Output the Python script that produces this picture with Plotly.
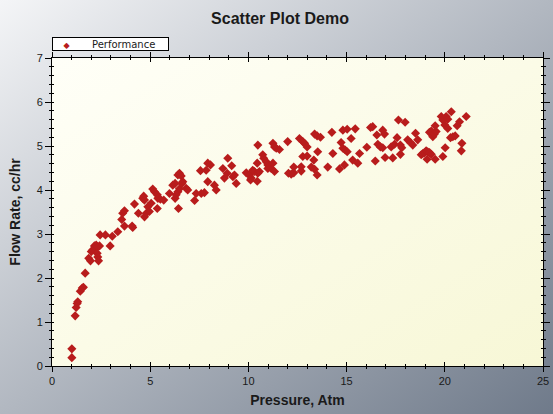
import base64
import plotly.graph_objects as go

# ---- data ----
pressure = [
    1.01, 1.01, 1.18, 1.23, 1.28, 1.31, 1.44, 1.54, 1.60, 1.69, 1.87, 1.96,
    2.00, 2.08, 2.16, 2.25, 2.33, 2.42, 2.30, 2.33, 2.37, 2.45, 2.72, 2.96,
    3.07, 3.35, 3.69, 4.08, 3.55, 3.60, 3.69, 4.11, 4.20, 4.40, 4.62, 4.67,
    4.71, 4.80, 4.88, 5.05, 4.96, 4.71, 5.13, 5.22, 5.36, 5.39, 5.36, 5.52,
    5.69, 5.98, 6.15, 6.27, 6.32, 6.41, 6.49, 6.41, 6.49, 6.58, 6.66, 6.61,
    6.27, 6.83, 6.91, 6.44, 7.26, 7.34, 7.60, 7.76, 7.56, 7.85, 7.93, 8.07,
    7.93, 8.27, 8.36, 8.70, 8.95, 9.15, 8.92, 8.78, 9.21, 9.38, 9.29, 9.89,
    10.06, 10.14, 10.11, 10.22, 10.31, 10.48, 10.45, 10.48, 10.56, 10.45, 10.73, 10.78,
    10.91, 10.99, 11.08, 11.16, 11.25, 11.33, 10.99, 11.25, 11.33, 11.42, 11.58, 12.00,
    12.04, 12.18, 12.31, 12.31, 12.60, 12.77, 12.86, 12.99, 12.69, 12.69, 12.77, 12.99,
    13.20, 13.37, 13.33, 13.37, 13.50, 13.67, 13.53, 13.50, 14.04, 14.64, 14.89, 14.30,
    14.25, 14.72, 14.81, 15.03, 14.81, 14.93, 15.03, 15.23, 15.31, 15.44, 15.57, 15.66,
    16.03, 16.22, 16.33, 16.46, 16.54, 16.59, 16.72, 16.84, 16.84, 16.93, 16.96, 17.27,
    17.44, 17.35, 17.57, 17.64, 17.74, 17.81, 17.74, 17.98, 18.11, 18.25, 18.37, 18.51,
    18.62, 18.80, 18.88, 18.97, 19.05, 19.13, 19.22, 19.31, 19.10, 19.51, 19.90, 20.02,
    19.22, 19.31, 19.39, 19.47, 19.56, 19.51, 19.82, 19.90, 20.07, 20.15, 20.33, 20.00,
    20.15, 20.29, 20.41, 20.53, 20.63, 20.75, 21.09, 20.87, 20.84,
]
flow_rate = [
    0.19, 0.39, 1.14, 1.33, 1.42, 1.46, 1.70, 1.77, 1.79, 2.11, 2.45, 2.39,
    2.60, 2.64, 2.73, 2.75, 2.71, 2.73, 2.56, 2.48, 2.39, 2.98, 2.98, 2.73,
    2.95, 3.05, 3.18, 3.18, 3.33, 3.47, 3.53, 3.15, 3.68, 3.47, 3.81, 3.86,
    3.39, 3.47, 3.62, 3.70, 3.51, 3.77, 4.02, 3.96, 3.89, 3.81, 3.58, 3.79,
    3.77, 3.92, 4.11, 3.81, 3.89, 3.96, 4.03, 4.34, 4.38, 4.32, 4.19, 4.15,
    4.15, 4.04, 4.00, 3.58, 3.76, 3.92, 3.92, 3.94, 4.44, 4.45, 4.61, 4.57,
    4.19, 4.11, 4.00, 4.49, 4.72, 4.55, 4.38, 4.27, 4.30, 4.15, 4.34, 4.39,
    4.34, 4.27, 4.23, 4.45, 4.42, 5.02, 4.61, 4.38, 4.42, 4.20, 4.80, 4.72,
    4.64, 4.57, 4.53, 4.49, 4.61, 4.42, 4.49, 5.06, 4.98, 4.95, 4.92, 5.10,
    4.38, 4.36, 4.39, 4.52, 5.17, 5.10, 5.06, 4.98, 4.53, 4.43, 4.76, 4.77,
    4.52, 4.47, 4.68, 5.27, 5.23, 5.20, 4.87, 4.34, 4.52, 4.48, 4.57, 4.83,
    5.31, 5.08, 5.36, 5.38, 4.95, 4.91, 4.87, 5.17, 4.68, 5.39, 4.61, 4.83,
    4.97, 5.42, 5.44, 4.66, 5.25, 5.04, 4.98, 4.96, 5.36, 5.27, 4.74, 4.98,
    5.04, 4.73, 5.19, 5.59, 5.02, 4.96, 4.81, 5.54, 5.14, 5.08, 5.02, 5.29,
    5.14, 4.80, 4.83, 4.85, 4.89, 4.87, 4.85, 4.81, 4.70, 4.70, 4.76, 4.96,
    5.31, 5.34, 5.21, 5.27, 5.33, 5.46, 5.67, 5.59, 5.67, 5.61, 5.78, 5.48,
    5.40, 5.19, 5.21, 5.23, 5.46, 5.55, 5.67, 5.06, 4.89,
]
series_name = "Performance"
chart_title = "Scatter Plot Demo"
x_title = "Pressure, Atm"
y_title = "Flow Rate, cc/hr"
x_range = [0, 25]
y_range = [0, 7]

# ---- styling ----
W, H = 553, 414
ML, MR, MT, MB = 52, 10, 58, 48
PW, PH = W - ML - MR, H - MT - MB
RED = "#b81c1c"
TXT = "#1a1a1a"


def grad_uri(c0, c1):
    svg = (
        '<svg xmlns="http://www.w3.org/2000/svg" width="100" height="100" '
        'viewBox="0 0 100 100" preserveAspectRatio="none">'
        '<defs><linearGradient id="g" x1="0" y1="0" x2="1" y2="1">'
        f'<stop offset="0" stop-color="{c0}"/><stop offset="1" stop-color="{c1}"/>'
        '</linearGradient></defs><rect width="100" height="100" fill="url(#g)"/></svg>'
    )
    return "data:image/svg+xml;base64," + base64.b64encode(svg.encode()).decode()


fig = go.Figure()
fig.add_trace(go.Scatter(
    x=pressure, y=flow_rate, mode="markers", name=series_name,
    marker=dict(symbol="diamond", size=7, color=RED, line=dict(width=0)),
    showlegend=False,
))
# empty trace to carry the overlay axes (inside half of crossing ticks)
fig.add_trace(go.Scatter(x=[], y=[], xaxis="x2", yaxis="y2", showlegend=False,
                         hoverinfo="skip"))

tickfont = dict(family="Liberation Sans, Arial", size=11, color=TXT)
titlefont = dict(family="Liberation Sans, Arial", size=14, color=TXT)

fig.update_layout(
    width=W, height=H,
    margin=dict(l=ML, r=MR, t=MT, b=MB, autoexpand=False),
    paper_bgcolor="#b4bac4",
    plot_bgcolor="rgba(0,0,0,0)",
    title=dict(text=f"<b>{chart_title}</b>", x=280 / W, xref="container", xanchor="center",
               y=1 - 18 / H, yref="container", yanchor="middle",
               font=dict(family="Liberation Sans, Arial", size=16, color=TXT)),
    xaxis=dict(range=x_range, dtick=5, tick0=0, showgrid=False, zeroline=False,
               showline=True, linecolor="black", linewidth=1, mirror="allticks",
               ticks="outside", ticklen=5, tickcolor="black", tickwidth=1,
               minor=dict(ticks="outside", ticklen=2, dtick=1, tickcolor="black", showgrid=False),
               tickfont=tickfont, automargin=False,
               title=dict(text=f"<b>{x_title}</b>", font=titlefont, standoff=8)),
    yaxis=dict(range=y_range, dtick=1, tick0=0, showgrid=False, zeroline=False,
               showline=True, linecolor="black", linewidth=1, mirror="allticks",
               ticks="outside", ticklen=6, tickcolor="black", tickwidth=1,
               minor=dict(ticks="outside", ticklen=2, dtick=0.2, tickcolor="black", showgrid=False),
               tickfont=tickfont, automargin=False,
               title=dict(text=f"<b>{y_title}</b>", font=titlefont, standoff=12)),
    xaxis2=dict(range=x_range, overlaying="x", anchor="y2", dtick=5, tick0=0,
                showgrid=False, zeroline=False, showline=False, mirror="allticks",
                ticks="inside", ticklen=4, tickcolor="black", tickwidth=1,
                minor=dict(ticks="inside", ticklen=2, dtick=1, tickcolor="black", showgrid=False),
                showticklabels=False),
    yaxis2=dict(range=y_range, overlaying="y", anchor="x2", dtick=1, tick0=0,
                showgrid=False, zeroline=False, showline=False, mirror="allticks",
                ticks="inside", ticklen=2, tickcolor="black", tickwidth=1,
                minor=dict(ticks="inside", ticklen=2, dtick=0.2, tickcolor="black", showgrid=False),
                showticklabels=False),
    images=[
        dict(source=grad_uri("#f4f5f7", "#6f7a8a"), xref="paper", yref="paper",
             x=-ML / PW, y=1 + MT / PH, sizex=W / PW, sizey=H / PH,
             xanchor="left", yanchor="top", sizing="stretch", layer="below"),
        dict(source=grad_uri("#fffff8", "#f7f7d6"), xref="paper", yref="paper",
             x=0, y=1, sizex=1, sizey=1, xanchor="left", yanchor="top",
             sizing="stretch", layer="below"),
    ],
    annotations=[dict(
        text=(f"&nbsp;&nbsp;&nbsp;<span style='color:{RED};font-size:8px'>◆</span>"
              f"&nbsp;&nbsp;&nbsp;&nbsp;&nbsp;&nbsp;&nbsp;{series_name}"),
        xref="paper", yref="paper", x=0, y=1, xanchor="left", yanchor="bottom",
        yshift=7, showarrow=False, align="left", width=113, height=10,
        bgcolor="white", bordercolor="black", borderwidth=1, borderpad=1,
        font=dict(family="DejaVu Sans", size=10, color=TXT),
    )],
)

fig.write_html("out.html",
               config={"displayModeBar": False},
               post_script="document.body.style.margin='0';document.body.style.overflow='hidden';")
